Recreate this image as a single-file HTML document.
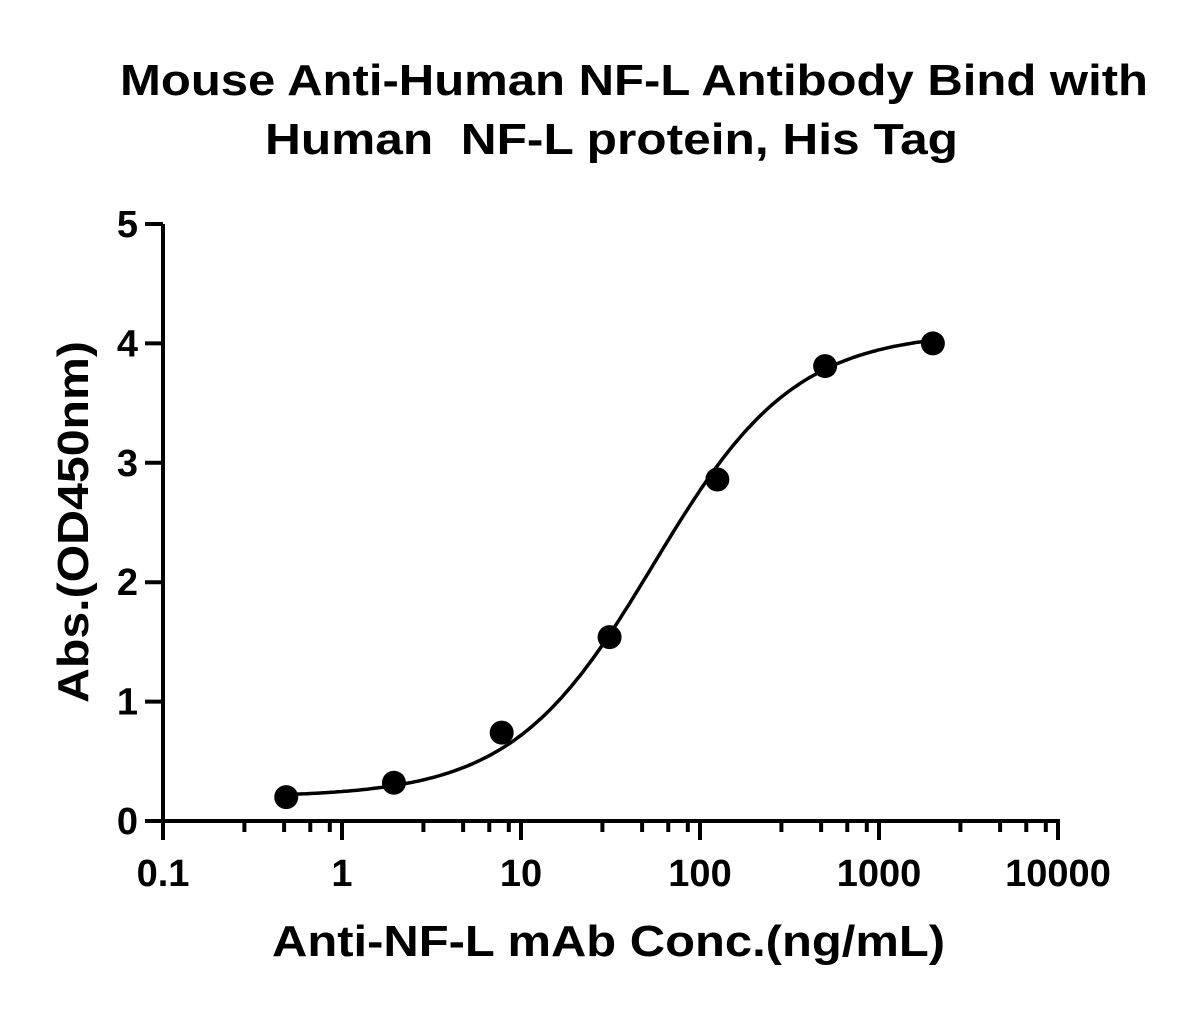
<!DOCTYPE html>
<html><head><meta charset="utf-8"><style>
body{margin:0;background:#fff}
svg text{font-family:"Liberation Sans",Arial,sans-serif;font-weight:bold;fill:#000}
</style></head><body>
<svg width="1194" height="1005" xmlns="http://www.w3.org/2000/svg">
<text x="120" y="95" font-size="44" textLength="1028" lengthAdjust="spacingAndGlyphs">Mouse Anti-Human NF-L Antibody Bind with</text>
<text x="265" y="154" font-size="44" textLength="693" lengthAdjust="spacingAndGlyphs" xml:space="preserve">Human  NF-L protein, His Tag</text>
<text x="0" y="0" font-size="44" textLength="362" lengthAdjust="spacingAndGlyphs" transform="translate(88,703) rotate(-90)">Abs.(OD450nm)</text>
<text x="272" y="956" font-size="44" textLength="673" lengthAdjust="spacingAndGlyphs">Anti-NF-L mAb Conc.(ng/mL)</text>
<g id="axes"></g>
<g id="marks"></g>
</svg>
<script>
const xTicks=[0.1,1,10,100,1000,10000];
const xTickLabels=["0.1","1","10","100","1000","10000"];
const yTicks=[0,1,2,3,4,5];
const conc=[0.488,1.95,7.8,31.25,125,500,2000];
const od=[0.2,0.32,0.74,1.54,2.86,3.81,4.0];
const fitParams=[0.2,4.1,55,1.1]; // bottom, top, EC50, hill
const NS="http://www.w3.org/2000/svg";
const X0=163,DEC=179,Y0=821,YU=119.4;
const xs=v=>X0+Math.log10(v/0.1)*DEC;
const ys=v=>Y0-v*YU;
function mk(t,a,p){const e=document.createElementNS(NS,t);for(const k in a)e.setAttribute(k,a[k]);p.appendChild(e);return e;}
const ax=document.getElementById('axes'),mg=document.getElementById('marks');
let l=mk('line',{x1:X0,y1:ys(5),x2:X0,y2:Y0+2,stroke:'#000','stroke-width':4},ax);


l=mk('line',{x1:145,y1:Y0,x2:xs(10000)+2,y2:Y0,stroke:'#000','stroke-width':4},ax);


yTicks.forEach(v=>{
 let t=mk('line',{x1:145,y1:ys(v),x2:X0,y2:ys(v),stroke:'#000','stroke-width':4},ax);
 
 
 let tx=mk('text',{x:138,y:ys(v)+13,'font-size':38,'text-anchor':'end'},ax);tx.textContent=v;
 
 
});
xTicks.forEach((v,i)=>{
 let t=mk('line',{x1:xs(v),y1:Y0,x2:xs(v),y2:840,stroke:'#000','stroke-width':4},ax);
 
 
 let tx=mk('text',{x:xs(v),y:886,'font-size':38,'text-anchor':'middle'},ax);tx.textContent=xTickLabels[i];
 
 
 if(i<xTicks.length-1)[3,5,7,9].forEach(m=>{
  let mt=mk('line',{x1:xs(v*m)-4,y1:Y0,x2:xs(v*m)-4,y2:832,stroke:'#000','stroke-width':4},ax);
  
  
 });
});
const [b,tp,ec,h]=fitParams;
let d='';
for(let i=0;i<=200;i++){const lx=Math.log10(conc[0])+(Math.log10(conc[conc.length-1])-Math.log10(conc[0]))*i/200;const x=Math.pow(10,lx);const y=b+(tp-b)/(1+Math.pow(ec/x,h));d+=(i?'L':'M')+xs(x).toFixed(1)+','+ys(y).toFixed(1);}
let c=mk('path',{d:d,fill:'none',stroke:'#000','stroke-width':3.5},mg);


conc.forEach((v,i)=>{
 let p=mk('circle',{cx:xs(v),cy:ys(od[i]),r:12,fill:'#000'},mg);
 
 
});
</script>
</body></html>
